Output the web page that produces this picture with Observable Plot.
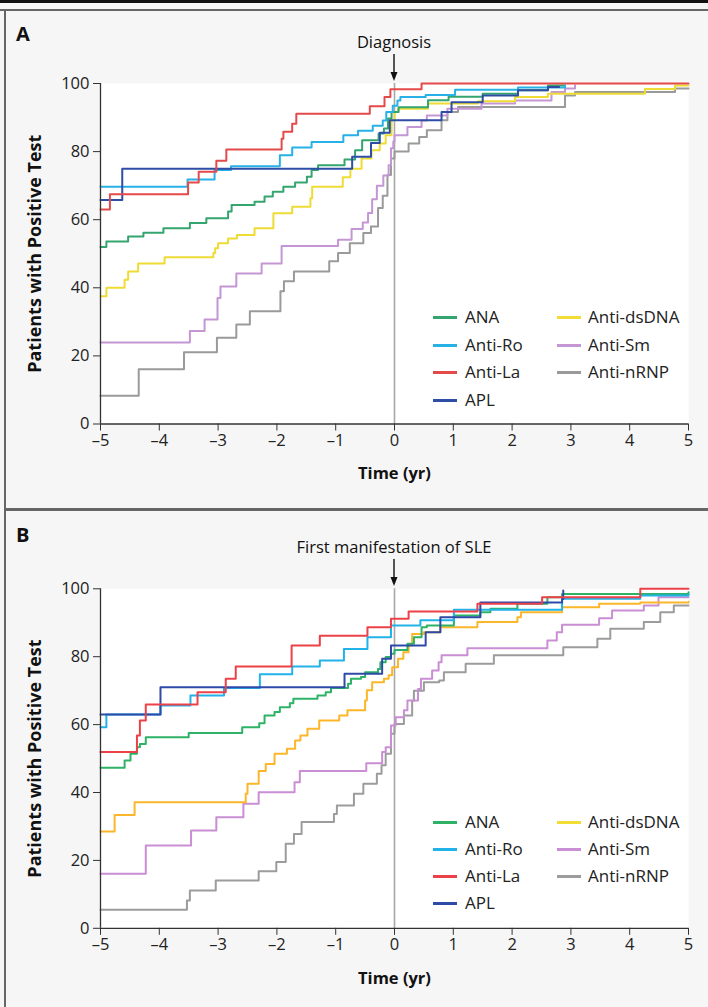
<!DOCTYPE html>
<html><head><meta charset="utf-8">
<script src="https://cdn.jsdelivr.net/npm/d3@7"></script>
<script src="https://cdn.jsdelivr.net/npm/@observablehq/plot@0.6"></script>
<style>
body{margin:0;background:#f6f6f6;font-family:"Open Sans",sans-serif;}
#page{position:relative;width:708px;height:1007px;overflow:hidden;background:#f6f6f6;}
.abs{position:absolute;}
.hline{position:absolute;left:0;width:708px;}
.letter{position:absolute;left:16px;font-weight:bold;font-size:20px;line-height:1;color:#111;}
.cap{position:absolute;width:300px;text-align:center;font-size:16.5px;line-height:1;color:#111;}
.leg{position:absolute;font-size:17px;line-height:1;color:#222;white-space:nowrap;}
.sw{position:absolute;width:24px;height:2.5px;}
</style></head><body><div id="page"></div>
<script>
// ---------- data ----------
const seriesNames = ["ANA","Anti-Ro","Anti-La","APL","Anti-dsDNA","Anti-Sm","Anti-nRNP"];
const colorsA = {"ANA":"#35a56f","Anti-Ro":"#27b1e6","Anti-La":"#e54a4b","APL":"#2e4ea6","Anti-dsDNA":"#eedc34","Anti-Sm":"#c596d4","Anti-nRNP":"#9a9a9a"};
const colorsB = {"ANA":"#2db266","Anti-Ro":"#22b2ea","Anti-La":"#ec4148","APL":"#2d4aa8","Anti-dsDNA":"#fbb62a","Anti-Sm":"#c98ed3","Anti-nRNP":"#9c9c9c"};
const legendSwatchDs = "#f2dd34";
const xTicks = [-5,-4,-3,-2,-1,0,1,2,3,4,5];
const yTicks = [0,20,40,60,80,100];
const captionA = "Diagnosis";
const captionB = "First manifestation of SLE";
const xLabel = "Time (yr)";
const yLabel = "Patients with Positive Test";

// Panel A (time relative to diagnosis), [years, % positive], step-after
const A_ANA = [[-5,52],[-4.9,53.6],[-4.53,55.1],[-4.27,56.2],[-3.93,57.5],[-3.48,59],[-3.2,60.4],[-2.83,62.4],[-2.77,64.3],[-2.38,65.3],[-2.21,66.8],[-2.07,68.2],[-1.89,69.7],[-1.69,70.9],[-1.49,72.6],[-1.41,74.6],[-1.3,76],[-0.85,77.7],[-0.67,80.4],[-0.55,83.3],[-0.27,85.3],[-0.18,86.8],[-0.11,89.7],[-0.05,91.6],[0.07,93],[0.57,95.1],[0.92,96.1],[1.5,97],[2.1,98],[2.61,99.4],[2.9,99.4]];
const A_Ro = [[-5,69.7],[-3.52,71.8],[-3.06,74.6],[-2.78,75.7],[-1.95,78.9],[-1.74,81.2],[-1.41,82.8],[-0.87,84.8],[-0.62,86.1],[-0.37,87.6],[-0.2,89.1],[-0.14,91.6],[-0.03,93.5],[0.05,95],[0.1,96],[0.53,96.6],[1.03,98.2],[2.1,98.8],[2.9,99.4]];
const A_La = [[-5,63],[-4.84,67.5],[-3.51,70.9],[-3.33,74.1],[-3.03,77.3],[-2.86,80.6],[-1.92,83.8],[-1.89,85.8],[-1.74,88.2],[-1.67,91.1],[-0.42,93.3],[-0.17,96],[-0.07,98.3],[0.46,100],[5,100]];
const A_APL = [[-5,65.8],[-4.63,75],[-0.72,78.5],[-0.4,82.5],[-0.25,85.5],[-0.08,89.2],[0.8,91.6],[0.97,94.5],[1.5,96.5],[2.1,98],[2.61,99],[2.8,99]];
const A_dsDNA = [[-5,37.5],[-4.9,40],[-4.59,42.4],[-4.53,44.8],[-4.36,47.1],[-3.91,49],[-3.08,50.2],[-3.05,51.6],[-3.0,53.1],[-2.83,54.5],[-2.68,55.5],[-2.38,57.5],[-2.06,61.9],[-1.74,63.8],[-1.43,66.3],[-1.4,69.7],[-0.88,72.5],[-0.75,75],[-0.56,78],[-0.39,80.4],[-0.25,82.4],[-0.15,84.8],[-0.05,89.2],[0,91.6],[0.06,92.6],[0.57,94.1],[1.42,94.8],[2.05,96],[2.61,97],[4.26,98.4],[4.77,99.4],[5,99.4]];
const A_Sm = [[-5,23.9],[-3.48,27.3],[-3.23,30.7],[-3.01,37],[-2.96,40.4],[-2.69,44.2],[-2.26,47.1],[-1.92,52.3],[-0.96,54.1],[-0.73,57.3],[-0.54,59.2],[-0.45,62],[-0.38,66],[-0.3,70],[-0.19,73],[-0.1,76],[-0.06,81],[-0.02,83],[0,84.8],[0.22,87.2],[0.46,89.1],[0.55,90.6],[0.9,92.6],[1.48,94.1],[2.05,95],[2.67,97.5],[2.9,98.5],[3.07,99.5]];
const A_nRNP = [[-5,8.3],[-4.35,16.1],[-3.58,21.1],[-3.02,25.3],[-2.69,29.2],[-2.46,33.1],[-1.94,39],[-1.88,41.9],[-1.71,44.8],[-1.11,47.8],[-0.96,50.2],[-0.76,53.1],[-0.53,56.1],[-0.4,58],[-0.28,63.4],[-0.2,67],[-0.12,73.1],[-0.06,78],[0,80],[0.24,82.4],[0.42,84.3],[0.55,86.3],[0.8,89.2],[0.9,91.6],[1.08,93.1],[2.9,96.5],[3.07,97.5],[4.77,98.5],[5,98.5]];

// Panel B (time relative to first manifestation of SLE)
const B_ANA = [[-5,47.3],[-4.59,49.4],[-4.49,51.4],[-4.38,53.3],[-4.33,54.3],[-4.23,56.3],[-3.5,57.5],[-2.59,59.2],[-2.3,60.4],[-2.21,62.7],[-2.04,63.7],[-1.95,65.1],[-1.78,66.3],[-1.72,67.6],[-1.31,68.6],[-1.17,69.5],[-1.08,70.8],[-0.79,72],[-0.74,73.5],[-0.57,74],[-0.5,75.4],[-0.28,76.4],[-0.24,78.4],[-0.15,79.9],[-0.06,80.9],[0,82],[0.22,83.8],[0.33,85.7],[0.46,88.7],[0.55,89.2],[1.01,92.1],[1.46,93.1],[1.63,94.1],[2.09,95.6],[2.6,97.5],[2.85,98.5],[5,99]];
const B_Ro = [[-5,59.2],[-4.9,63],[-3.98,65.6],[-3.47,68.6],[-2.9,70.8],[-2.29,74.8],[-1.74,77.1],[-1.27,78.9],[-0.86,82.3],[-0.46,85.7],[-0.06,89.2],[0.44,90.7],[1.01,93.8],[2.85,97.1],[4.18,98],[5,98.3]];
const B_La = [[-5,51.9],[-4.38,56.8],[-4.33,61.2],[-4.23,65.9],[-3.35,69.5],[-2.87,73.5],[-2.7,77.1],[-1.75,83.3],[-1.27,86.2],[-0.46,88.7],[-0.06,91.2],[0.24,93.3],[1.41,95.6],[2.51,97.5],[4.18,100],[5,100]];
const B_APL = [[-5,63],[-3.98,71],[-0.85,75],[-0.21,79.4],[-0.06,83.3],[0.53,87.2],[0.78,91.6],[1.46,96],[2.85,97],[2.87,99.5]];
const B_dsDNA = [[-5,28.5],[-4.76,33.4],[-4.42,37.1],[-2.53,39.6],[-2.5,42.6],[-2.31,46.3],[-2.19,48.4],[-2.04,51.4],[-1.83,52.9],[-1.69,55.3],[-1.6,56.8],[-1.48,58.8],[-1.28,61.2],[-0.94,62.7],[-0.8,64.2],[-0.5,67.1],[-0.47,70.1],[-0.38,72.5],[-0.18,73.5],[-0.1,74.5],[-0.04,76.9],[0.06,79.4],[0.15,81.3],[0.24,83.3],[0.3,86.7],[0.5,87.2],[0.78,88.7],[1.41,90.2],[2.09,91.6],[2.15,93.1],[2.85,94.6],[3.48,95.6],[4.18,96],[5,96.2]];
const B_Sm = [[-5,16.1],[-4.23,24.4],[-3.46,28.8],[-3.03,32.7],[-2.57,36.7],[-2.31,40.1],[-1.7,43],[-1.61,46.3],[-0.48,48.6],[-0.21,51.9],[-0.15,53.3],[-0.06,59.7],[0.02,62.2],[0.16,64.2],[0.22,67.1],[0.4,70.5],[0.45,73.5],[0.64,75.9],[0.75,78.4],[0.8,80.4],[1.24,82.5],[2.6,84.8],[2.76,87.2],[2.85,89.4],[3.48,91.3],[3.7,93.6],[4.24,95.1],[4.49,97.5],[5,97.5]];
const B_nRNP = [[-5,5.5],[-3.53,8.2],[-3.48,11.1],[-3.04,14.1],[-2.31,16.8],[-2.01,19.5],[-1.85,24.9],[-1.71,27.8],[-1.58,31.3],[-1.03,33.7],[-0.98,36.2],[-0.69,39.6],[-0.53,42.6],[-0.3,45.5],[-0.22,48],[-0.15,51.4],[-0.06,57.3],[0,60.2],[0.16,62.7],[0.3,67],[0.33,70],[0.5,72.5],[0.76,73],[0.84,75.4],[1.21,77.9],[1.69,80.4],[2.87,82.8],[3.45,85.3],[3.67,88.2],[4.24,90.2],[4.52,93.1],[4.75,95.1],[5,95.1]];

const panelA = {"ANA":A_ANA,"Anti-Ro":A_Ro,"Anti-La":A_La,"APL":A_APL,"Anti-dsDNA":A_dsDNA,"Anti-Sm":A_Sm,"Anti-nRNP":A_nRNP};
const panelB = {"ANA":B_ANA,"Anti-Ro":B_Ro,"Anti-La":B_La,"APL":B_APL,"Anti-dsDNA":B_dsDNA,"Anti-Sm":B_Sm,"Anti-nRNP":B_nRNP};
const drawOrder = ["Anti-nRNP","Anti-Sm","Anti-dsDNA","ANA","Anti-Ro","APL","Anti-La"];

// ---------- drawing ----------
const page = document.getElementById("page");
function el(tag, cls, css, html){const e=document.createElement(tag); if(cls)e.className=cls; if(css)Object.assign(e.style,css); if(html!==undefined)e.textContent=html; page.appendChild(e); return e;}
const fmtX = d => d<0 ? "\u2013"+(-d) : String(d);

function makePanel(panel, colors, top, height, mTop, mBottom){
  const rows = [];
  for (const name of drawOrder) for (const [t,v] of panel[name]) rows.push({name,t,v});
  const svg = Plot.plot({
    width:708, height, marginLeft:100, marginRight:20, marginTop:mTop, marginBottom:mBottom,
    style:{background:"transparent", fontFamily:"'Open Sans', sans-serif", color:"#222", overflow:"visible"},
    x:{domain:[-5,5], label:null},
    y:{domain:[0,100], label:null},
    color:{domain:seriesNames, range:seriesNames.map(n=>colors[n])},
    marks:[
      Plot.frame({fill:"white", stroke:null}),
      Plot.ruleX([0],{stroke:"#a8a8a8", strokeWidth:1.6}),
      Plot.line(rows,{x:"t", y:"v", z:"name", stroke:"name", curve:"step-after", strokeWidth:2}),
      Plot.ruleX([-5],{stroke:"#333", strokeWidth:1.3}),
      Plot.ruleY([0],{stroke:"#333", strokeWidth:1.3}),
      Plot.axisX({ticks:xTicks, tickSize:7, tickPadding:3, tickFormat:fmtX, label:null, stroke:"#333", fontSize:16.5, fill:"#222"}),
      Plot.axisY({ticks:yTicks, tickSize:7, tickPadding:4, label:null, stroke:"#333", fontSize:16.5, fill:"#222"}),
      Plot.text([xLabel],{frameAnchor:"bottom", dy:50, lineAnchor:"middle", textAnchor:"middle", fontWeight:"bold", fontSize:16.5, fill:"#111"}),
      Plot.text([yLabel],{frameAnchor:"left", dx:-65, rotate:-90, lineAnchor:"middle", textAnchor:"middle", fontWeight:"bold", fontSize:18, fill:"#111", letterSpacing:0.6})
    ]
  });
  svg.classList.add("abs");
  svg.style.left="0px"; svg.style.top=top+"px";
  page.appendChild(svg);
}

function arrow(x, y1, y2){
  const ns="http://www.w3.org/2000/svg";
  const s=document.createElementNS(ns,"svg");
  s.setAttribute("width","20"); s.setAttribute("height", String(y2-y1+2));
  Object.assign(s.style,{position:"absolute", left:(x-10)+"px", top:y1+"px"});
  const h=y2-y1;
  const l=document.createElementNS(ns,"line");
  l.setAttribute("x1","10");l.setAttribute("x2","10");l.setAttribute("y1","0");l.setAttribute("y2",String(h-6));
  l.setAttribute("stroke","#111");l.setAttribute("stroke-width","1.4");
  const p=document.createElementNS(ns,"path");
  p.setAttribute("d",`M6.5,${h-9} L13.5,${h-9} L10,${h} Z`); p.setAttribute("fill","#111");
  s.appendChild(l); s.appendChild(p); page.appendChild(s);
}

function legend(colors, rowYs){
  const col1 = ["ANA","Anti-Ro","Anti-La","APL"], col2 = ["Anti-dsDNA","Anti-Sm","Anti-nRNP"];
  const put=(name, i, sx, tx)=>{
    const c = name==="Anti-dsDNA" ? legendSwatchDs : colors[name];
    el("div","sw",{left:sx+"px", top:(rowYs[i]-1)+"px", background:c});
    el("div","leg",{left:tx+"px", top:(rowYs[i]-9)+"px"}, name);
  };
  col1.forEach((n,i)=>put(n,i,433,465));
  col2.forEach((n,i)=>put(n,i,557,588));
}

// frame lines
el("div","hline",{top:"0px", height:"2.5px", background:"#111"});
el("div","hline",{top:"8.5px", height:"2px", background:"#666"});
el("div","abs",{left:"4px", top:"9px", width:"2px", height:"998px", background:"#666"});
el("div","abs",{left:"4px", top:"508px", width:"704px", height:"2.5px", background:"#666"});

// panel A
makePanel(panelA, colorsA, 0, 508, 83, 84.5);
el("div","letter",{top:"24px"},"A");
el("div","cap",{left:"244px", top:"34px"},captionA);
arrow(394, 54, 81);
legend(colorsA,[317,345,372,400]);

// panel B
makePanel(panelB, colorsB, 508, 499, 80.3, 79.2);
el("div","letter",{top:"525px"},"B");
el("div","cap",{left:"244px", top:"539px"},captionB);
arrow(394, 559, 586);
legend(colorsB,[822,849,876,903]);
</script></body></html>
